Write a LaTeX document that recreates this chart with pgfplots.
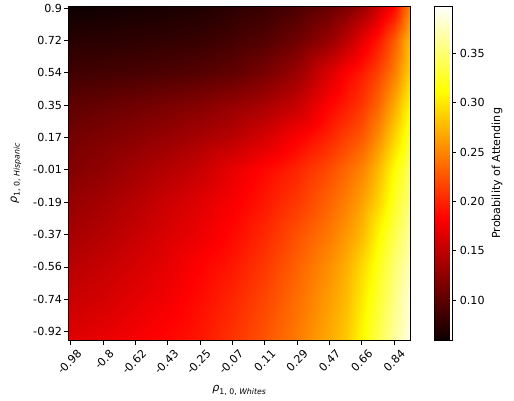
\documentclass[border=0pt]{standalone}
\usepackage{fontspec}
\setmainfont{DejaVu Sans}
\usepackage{pgfplots}
\pgfplotsset{compat=1.18}
\pgfplotsset{colormap={mplhot}{rgb(0pt)=(0.0416,0,0); rgb(365pt)=(1,0,0); rgb(746pt)=(1,1,0); rgb(1000pt)=(1,1,1)}}
\begin{document}
\begin{tikzpicture}
\useasboundingbox (-61.5pt,-53.4pt) rectangle (401.1pt,306.6pt);
\begin{axis}[
  at={(0,0)}, anchor=south west,
  scale only axis, width=307.5pt, height=301.2pt,
  xmin=-0.074, xmax=10.49, ymin=-0.28, ymax=10.07,
  axis on top,
  axis line style={line width=0.8pt},
  every tick/.style={black, line width=0.8pt},
  tick align=outside, major tick length=3.5pt,
  xtick pos=bottom, ytick pos=left,
  xtick={0,1,2,3,4,5,6,7,8,9,10},
  xticklabels={-0.98,-0.8,-0.62,-0.43,-0.25,-0.07,0.11,0.29,0.47,0.66,0.84},
  ytick={0,1,2,3,4,5,6,7,8,9,10},
  yticklabels={-0.92,-0.74,-0.56,-0.37,-0.19,-0.01,0.17,0.35,0.54,0.72,0.9},
  tick label style={font=\fontsize{10}{12}\selectfont},
  xticklabel shift=3.5pt,
  xticklabel style={inner sep=0pt, xshift=5.2pt, rotate=45, anchor=north east},
  yticklabel style={inner sep=2pt},
  xlabel={\textit{ρ}\raisebox{-0.45ex}{\fontsize{7}{8}\selectfont 1, 0, \textit{Whites}}},
  ylabel={\textit{ρ}\raisebox{-0.45ex}{\fontsize{7}{8}\selectfont 1, 0, \textit{Hispanic}}},
  xlabel style={at={(axis description cs:0.5,0)}, anchor=center, yshift=-44.4pt, font=\fontsize{10}{12}\selectfont},
  ylabel style={at={(axis description cs:0,0.5)}, anchor=center, yshift=47.1pt, font=\fontsize{10}{12}\selectfont},
  colormap name=mplhot,
  point meta min=0.0588, point meta max=0.398,
  colorbar,
  colorbar style={
    at={(parent axis.north east)}, anchor=north west, xshift=13.1pt,
    scale only axis, width=16.2pt, height=301.2pt,
    axis line style={line width=0.8pt},
    every tick/.style={black, line width=0.8pt},
    tick align=outside, major tick length=3.5pt,
    ytick={0.10,0.15,0.20,0.25,0.30,0.35},
    ytick pos=right, yticklabel pos=right,
    yticklabel style={/pgf/number format/.cd, fixed, fixed zerofill, precision=2, /pgf/number format/assume math mode=true},
    tick label style={font=\fontsize{10}{12}\selectfont},
    ylabel={Probability of Attending},
    ylabel style={at={(axis description cs:1,0.5)}, anchor=center, yshift=-40.5pt, font=\fontsize{10}{12}\selectfont},
  },
]
\addplot[surf, shader=interp, mesh/cols=14, point meta=explicit] table[x=x, y=y, meta=v] {
x y v
-0.074 -0.28 0.167
1 -0.28 0.172
2 -0.28 0.179
3 -0.28 0.186
4 -0.28 0.194
5 -0.28 0.208
6 -0.28 0.225
7 -0.28 0.245
8 -0.28 0.269
8.5 -0.28 0.284
9 -0.28 0.310
9.5 -0.28 0.337
10 -0.28 0.364
10.49 -0.28 0.389
-0.074 1 0.155
1 1 0.161
2 1 0.169
3 1 0.177
4 1 0.188
5 1 0.201
6 1 0.218
7 1 0.238
8 1 0.262
8.5 1 0.277
9 1 0.301
9.5 1 0.328
10 1 0.355
10.49 1 0.383
-0.074 2 0.147
1 2 0.154
2 2 0.162
3 2 0.171
4 2 0.183
5 2 0.194
6 2 0.211
7 2 0.232
8 2 0.255
8.5 2 0.271
9 2 0.293
9.5 2 0.320
10 2 0.349
10.49 2 0.374
-0.074 3 0.137
1 3 0.145
2 3 0.154
3 3 0.164
4 3 0.174
5 3 0.186
6 3 0.203
7 3 0.223
8 3 0.244
8.5 3 0.259
9 3 0.277
9.5 3 0.308
10 3 0.337
10.49 3 0.364
-0.074 4 0.129
1 4 0.137
2 4 0.146
3 4 0.157
4 4 0.167
5 4 0.179
6 4 0.194
7 4 0.211
8 4 0.233
8.5 4 0.247
9 4 0.264
9.5 4 0.289
10 4 0.323
10.49 4 0.354
-0.074 5 0.119
1 5 0.127
2 5 0.136
3 5 0.145
4 5 0.155
5 5 0.171
6 5 0.186
7 5 0.201
8 5 0.221
8.5 5 0.235
9 5 0.250
9.5 5 0.276
10 5 0.311
10.49 5 0.344
-0.074 6 0.112
1 6 0.118
2 6 0.124
3 6 0.131
4 6 0.139
5 6 0.148
6 6 0.162
7 6 0.181
8 6 0.201
8.5 6 0.215
9 6 0.228
9.5 6 0.254
10 6 0.289
10.49 6 0.327
-0.074 7 0.101
1 7 0.105
2 7 0.110
3 7 0.115
4 7 0.121
5 7 0.129
6 7 0.139
7 7 0.154
8 7 0.183
8.5 7 0.196
9 7 0.210
9.5 7 0.233
10 7 0.267
10.49 7 0.310
-0.074 8 0.086
1 8 0.088
2 8 0.090
3 8 0.093
4 8 0.097
5 8 0.103
6 8 0.115
7 8 0.132
8 8 0.164
8.5 8 0.183
9 8 0.196
9.5 8 0.216
10 8 0.245
10.49 8 0.289
-0.074 9 0.074
1 9 0.075
2 9 0.077
3 9 0.079
4 9 0.082
5 9 0.088
6 9 0.096
7 9 0.110
8 9 0.130
8.5 9 0.149
9 9 0.171
9.5 9 0.194
10 9 0.228
10.49 9 0.279
-0.074 10.07 0.060
1 10.07 0.062
2 10.07 0.064
3 10.07 0.066
4 10.07 0.069
5 10.07 0.076
6 10.07 0.081
7 10.07 0.091
8 10.07 0.105
8.5 10.07 0.115
9 10.07 0.130
9.5 10.07 0.155
10 10.07 0.183
10.49 10.07 0.249
};
\end{axis}
\end{tikzpicture}
\end{document}
